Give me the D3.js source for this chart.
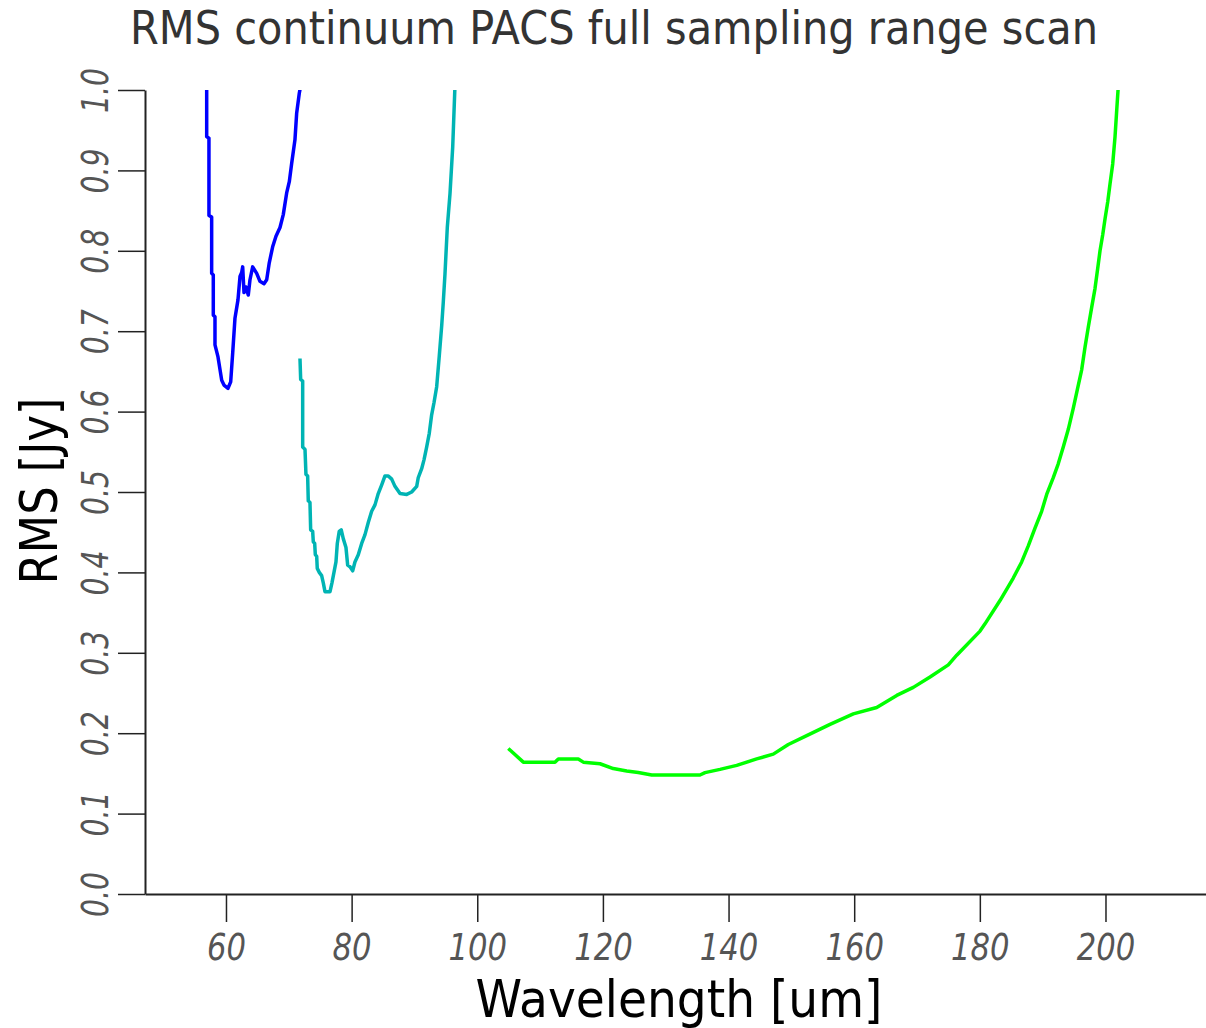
<!DOCTYPE html>
<html>
<head>
<meta charset="utf-8">
<script src="https://cdn.jsdelivr.net/npm/d3@7"></script>
<style>
  html, body { margin: 0; padding: 0; background: #fff; }
  svg { display: block; }
</style>
</head>
<body>
<svg id="chart" width="1206" height="1028"></svg>
<script>
// ---- data ----
const titleText = "RMS continuum PACS full sampling range scan";
const xLabelText = "Wavelength [um]";
const yLabelText = "RMS [Jy]";
const xTicks = [60, 80, 100, 120, 140, 160, 180, 200];
const yTicks = [0.0, 0.1, 0.2, 0.3, 0.4, 0.5, 0.6, 0.7, 0.8, 0.9, 1.0];

// blue band (B2A)
const blueX = [56.93, 56.93, 57.29, 57.29, 57.72, 57.72, 57.98, 57.98, 58.25, 58.25, 58.73, 59.32, 59.68, 60.32, 60.75, 61.07, 61.43, 61.91, 62.23, 62.50, 62.66, 62.87, 63.18, 63.55, 63.82, 64.25, 64.89, 65.41, 66.05, 66.48, 66.89, 67.43, 67.96, 68.60, 69.12, 69.66, 70.08, 70.46, 70.98, 71.25, 71.67, 71.89];
const blueY = [1.005, 0.942, 0.940, 0.844, 0.842, 0.772, 0.770, 0.720, 0.718, 0.683, 0.668, 0.639, 0.633, 0.629, 0.637, 0.673, 0.716, 0.739, 0.768, 0.773, 0.780, 0.748, 0.755, 0.745, 0.764, 0.780, 0.772, 0.762, 0.759, 0.764, 0.785, 0.805, 0.818, 0.829, 0.845, 0.872, 0.886, 0.909, 0.938, 0.971, 0.996, 1.005];

// cyan band (B2B)
const cyanX = [71.78, 71.89, 72.21, 72.21, 72.58, 72.73, 73.00, 73.10, 73.37, 73.48, 73.80, 73.90, 74.12, 74.22, 74.44, 74.53, 74.85, 75.23, 75.49, 75.76, 76.56, 76.87, 77.19, 77.51, 77.72, 78.03, 78.35, 78.67, 79.10, 79.37, 79.74, 80.17, 80.53, 81.06, 81.60, 82.13, 82.65, 83.19, 83.72, 84.24, 84.79, 85.31, 85.84, 86.38, 86.90, 87.70, 88.77, 89.56, 90.36, 90.61, 91.15, 91.52, 91.95, 92.36, 92.74, 93.11, 93.54, 93.95, 94.34, 94.59, 94.86, 95.23, 95.66, 96.09, 96.45];
const cyanY = [0.666, 0.640, 0.638, 0.556, 0.553, 0.522, 0.520, 0.489, 0.487, 0.453, 0.451, 0.438, 0.436, 0.422, 0.420, 0.405, 0.400, 0.396, 0.387, 0.376, 0.376, 0.387, 0.400, 0.413, 0.436, 0.451, 0.453, 0.442, 0.431, 0.409, 0.407, 0.402, 0.413, 0.422, 0.436, 0.447, 0.462, 0.476, 0.484, 0.498, 0.509, 0.520, 0.520, 0.516, 0.507, 0.498, 0.497, 0.500, 0.507, 0.518, 0.529, 0.540, 0.556, 0.573, 0.596, 0.611, 0.631, 0.669, 0.707, 0.736, 0.771, 0.829, 0.871, 0.929, 1.005];

// green band (R1)
const greenX = [104.94, 107.33, 112.37, 112.90, 116.08, 116.88, 119.54, 121.65, 123.79, 125.63, 127.77, 135.45, 136.25, 138.64, 141.30, 144.48, 147.12, 149.51, 152.44, 156.15, 159.86, 163.58, 166.77, 169.41, 172.07, 174.98, 176.32, 180.03, 180.82, 183.21, 185.32, 186.66, 187.71, 188.78, 189.84, 190.64, 191.69, 192.48, 193.28, 194.08, 194.87, 195.51, 196.21, 196.74, 197.26, 197.81, 198.33, 198.76, 199.13, 199.56, 199.93, 200.36, 200.72, 201.15, 201.52, 201.79, 202.04];
const greenY = [0.181, 0.164, 0.164, 0.168, 0.168, 0.164, 0.162, 0.156, 0.153, 0.151, 0.148, 0.148, 0.151, 0.155, 0.160, 0.168, 0.174, 0.186, 0.197, 0.211, 0.224, 0.232, 0.247, 0.257, 0.270, 0.285, 0.297, 0.327, 0.336, 0.365, 0.393, 0.413, 0.433, 0.455, 0.476, 0.497, 0.518, 0.535, 0.556, 0.578, 0.604, 0.627, 0.652, 0.680, 0.705, 0.730, 0.753, 0.778, 0.800, 0.820, 0.840, 0.861, 0.883, 0.908, 0.942, 0.975, 1.005];

const seriesList = [
  { xs: blueX, ys: blueY, color: "#0000ff" },
  { xs: cyanX, ys: cyanY, color: "#00b4b4" },
  { xs: greenX, ys: greenY, color: "#00ff00" }
];

// ---- layout ----
const plotL = 145, plotR = 1206, plotT = 90, plotB = 894;

const svg = d3.select("#chart");

const x = d3.scaleLinear().domain([47.11, 216.0]).range([plotL, plotR]);
const y = d3.scaleLinear().domain([0, 1]).range([plotB, plotT]);

svg.append("defs").append("clipPath").attr("id", "plotclip")
  .append("rect").attr("x", plotL).attr("y", plotT).attr("width", plotR - plotL).attr("height", plotB - plotT);

function labelLen(s, digitW, dotW) {
  let n = 0;
  for (const c of s) n += (c === "." ? dotW : digitW);
  return n;
}

// x axis
const xAxis = d3.axisBottom(x).tickValues(xTicks).tickSize(28).tickSizeOuter(0).tickFormat(d3.format("d"));
const gx = svg.append("g").attr("transform", `translate(0,${plotB})`).call(xAxis);
gx.select(".domain").attr("stroke", "#222").attr("stroke-width", 2);
gx.selectAll(".tick line").attr("stroke", "#222").attr("stroke-width", 1.5);
gx.selectAll(".tick text")
  .attr("y", 66).attr("dy", null)
  .attr("fill", "#555")
  .style("font-family", "DejaVu Sans, sans-serif")
  .style("font-style", "italic")
  .style("font-weight", "300")
  .style("font-size", "38px")
  .each(function(d) {
    const s = d3.format("d")(d);
    d3.select(this).attr("textLength", labelLen(s, 19.5, 9)).attr("lengthAdjust", "spacingAndGlyphs");
  });

// y axis
const yAxis = d3.axisLeft(y).tickValues(yTicks).tickSize(27).tickSizeOuter(0).tickFormat(d3.format(".1f"));
const gy = svg.append("g").attr("transform", `translate(${plotL},0)`).call(yAxis);
gy.select(".domain").attr("stroke", "#222").attr("stroke-width", 2);
gy.selectAll(".tick line").attr("stroke", "#222").attr("stroke-width", 1.5);
gy.selectAll(".tick text")
  .attr("x", null).attr("dy", null)
  .attr("transform", "translate(-37,0) rotate(-90)")
  .attr("text-anchor", "middle")
  .attr("fill", "#555")
  .style("font-family", "DejaVu Sans, sans-serif")
  .style("font-style", "italic")
  .style("font-weight", "300")
  .style("font-size", "38px")
  .each(function(d) {
    const s = d3.format(".1f")(d);
    d3.select(this).attr("textLength", labelLen(s, 18, 9)).attr("lengthAdjust", "spacingAndGlyphs");
  });

// series
const line = d3.line().x(d => x(d[0])).y(d => y(d[1]));
const gLines = svg.append("g").attr("clip-path", "url(#plotclip)");
seriesList.forEach(s => {
  const pts = s.xs.map((v, i) => [v, s.ys[i]]);
  gLines.append("path")
    .attr("d", line(pts))
    .attr("fill", "none")
    .attr("stroke", s.color)
    .attr("stroke-width", 3.5)
    .attr("stroke-linejoin", "round");
});

// title
svg.append("text")
  .attr("x", 614).attr("y", 44)
  .attr("text-anchor", "middle")
  .attr("fill", "#333")
  .style("font-family", "DejaVu Sans, sans-serif")
  .style("font-size", "46px")
  .attr("textLength", 968).attr("lengthAdjust", "spacingAndGlyphs")
  .text(titleText);

// x label
svg.append("text")
  .attr("x", 679).attr("y", 1017)
  .attr("text-anchor", "middle")
  .attr("fill", "#000")
  .style("font-family", "DejaVu Sans, sans-serif")
  .style("font-size", "52px")
  .attr("textLength", 407).attr("lengthAdjust", "spacingAndGlyphs")
  .text(xLabelText);

// y label
svg.append("text")
  .attr("transform", "translate(57,491) rotate(-90)")
  .attr("text-anchor", "middle")
  .attr("fill", "#000")
  .style("font-family", "DejaVu Sans, sans-serif")
  .style("font-size", "52px")
  .attr("textLength", 187).attr("lengthAdjust", "spacingAndGlyphs")
  .text(yLabelText);
</script>
</body>
</html>
